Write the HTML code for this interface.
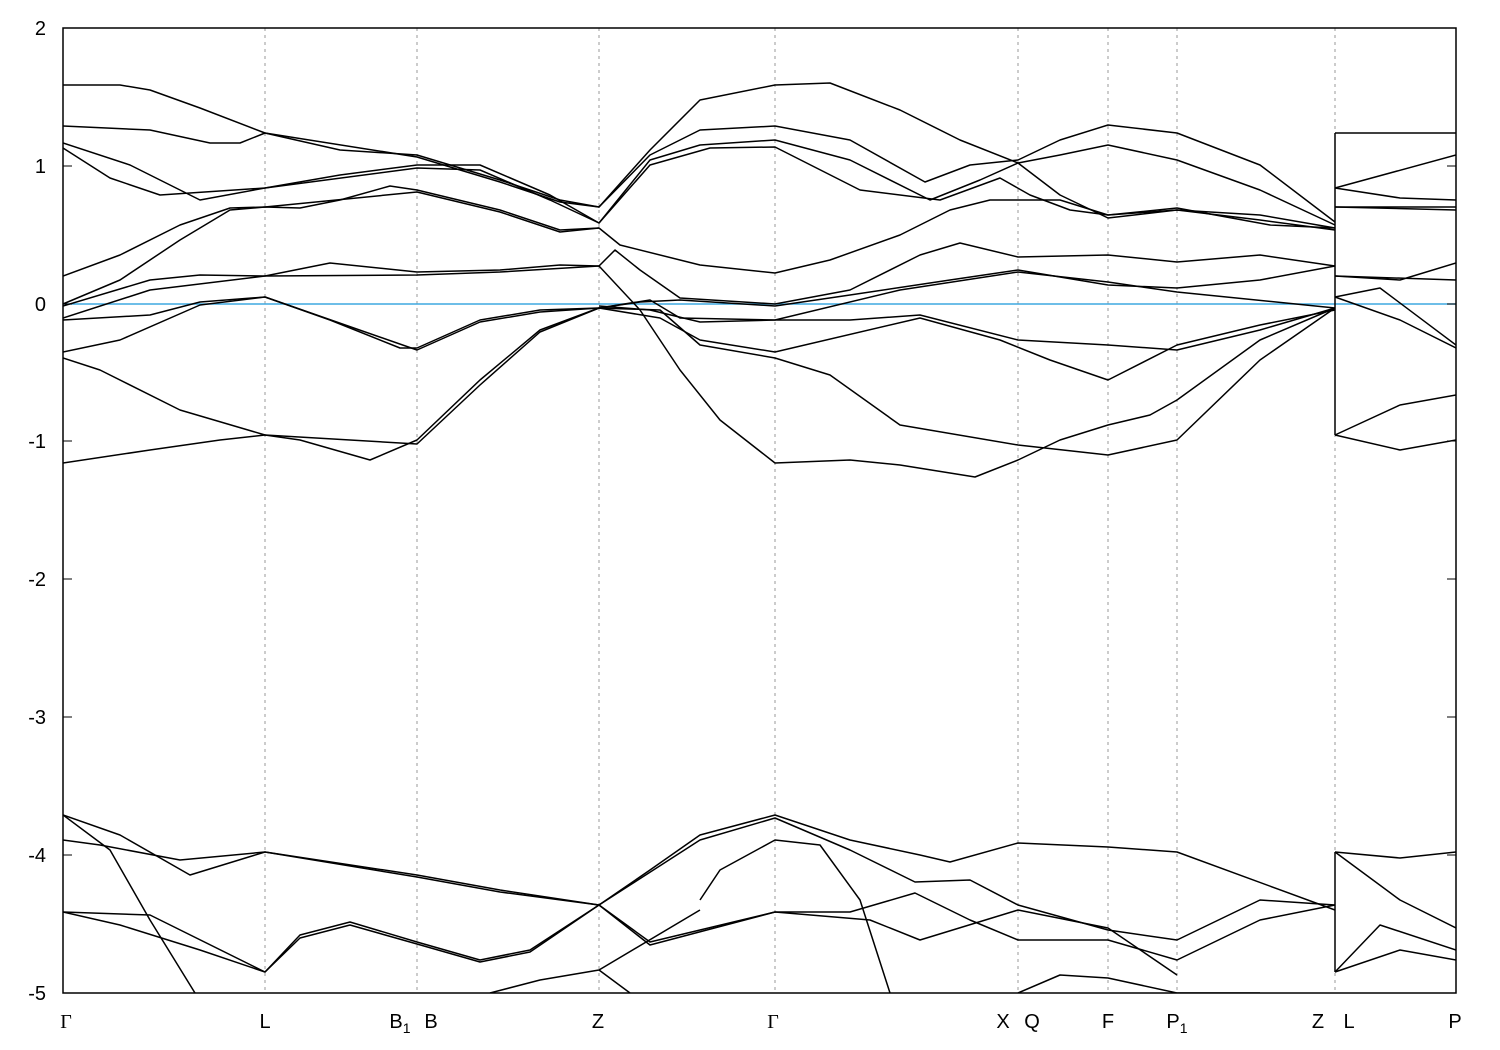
<!DOCTYPE html>
<html><head><meta charset="utf-8"><style>
body{margin:0;background:#fff;width:1500px;height:1050px;overflow:hidden}
svg{position:absolute;left:0;top:0}
text{font-family:"Liberation Sans",sans-serif;font-size:20px;fill:#000}
</style></head><body>
<svg width="1500" height="1050" viewBox="0 0 1500 1050">
<defs><clipPath id="c"><rect x="63" y="28" width="1393" height="965"/></clipPath></defs>
<g stroke="#999" stroke-width="1" stroke-dasharray="3,4">
<line x1="265" y1="28" x2="265" y2="993"/><line x1="417" y1="28" x2="417" y2="993"/>
<line x1="599" y1="28" x2="599" y2="993"/><line x1="775" y1="28" x2="775" y2="993"/>
<line x1="1018" y1="28" x2="1018" y2="993"/><line x1="1108" y1="28" x2="1108" y2="993"/>
<line x1="1177" y1="28" x2="1177" y2="993"/><line x1="1335" y1="28" x2="1335" y2="993"/>
</g>
<line x1="63" y1="304" x2="1456" y2="304" stroke="#3fa9e0" stroke-width="1.5"/>
<g clip-path="url(#c)" fill="none" stroke="#000" stroke-width="1.5" stroke-linejoin="round">
<polyline points="63,85 120,85 150,90 200,108 265,133 340,150 417,155 500,180 560,200 599,207 650,150 700,100 775,85 830,83 900,110 960,140 1018,163 1060,195 1108,218 1177,210 1260,215 1335,228"/>
<polyline points="63,126 150,130 210,143 240,143 265,133 417,157 500,182 560,202 599,207 650,155 700,130 775,126 850,140 925,182 970,165 1018,160 1060,140 1108,125 1177,133 1260,165 1335,222"/>
<polyline points="63,143 130,165 200,200 265,188 340,175 417,165 480,165 550,195 599,223 650,160 700,145 775,140 850,160 930,200 980,180 1018,163 1060,155 1108,145 1177,160 1260,190 1335,225"/>
<polyline points="63,148 110,178 160,195 265,188 417,168 480,170 550,200 599,223 650,165 710,148 775,147 860,190 940,200 1000,178 1030,195 1070,210 1108,215 1177,210 1260,220 1335,230"/>
<polyline points="63,276 120,255 180,225 230,208 265,207 300,208 340,200 390,186 417,190 500,210 560,230 599,228 620,245 700,265 775,273 830,260 900,235 950,210 990,200 1018,200 1060,200 1108,215 1177,208 1270,225 1335,228"/>
<polyline points="63,304 120,280 180,240 230,210 265,207 417,192 500,212 560,232 599,228"/>
<polyline points="63,306 150,280 200,275 265,276 330,263 417,272 500,270 560,265 599,266 615,250 640,270 680,298 775,304 850,290 920,255 960,243 1018,257 1108,255 1177,262 1260,255 1335,266"/>
<polyline points="63,318 150,290 265,276 417,275 500,272 599,266 640,310 680,370 720,420 775,463 850,460 900,465 975,477 1018,460 1060,440 1108,425 1150,415 1177,400 1260,340 1335,308"/>
<polyline points="63,320 150,315 200,302 265,297 330,320 400,348 417,348 480,320 540,310 599,308 650,300 680,318 775,320 850,320 920,315 1018,340 1108,345 1177,350 1260,330 1335,308"/>
<polyline points="63,352 120,340 200,305 265,297 417,350 480,322 540,312 599,308 660,318 700,340 775,352 920,318 1000,340 1050,360 1108,380 1177,345 1260,325 1335,310"/>
<polyline points="63,358 100,370 180,410 265,435 300,440 370,460 417,440 480,380 540,330 599,308 660,310 700,345 775,358 830,375 900,425 1018,445 1108,455 1177,440 1260,360 1335,308"/>
<polyline points="63,463 150,450 220,440 265,435 417,444 480,385 540,332 599,308 640,302 680,300 775,306 850,295 950,280 1018,270 1108,285 1177,288 1260,280 1335,266"/>
<polyline points="599,306 650,310 700,322 775,320 900,290 1018,272 1108,282 1177,292 1335,308"/>
<polyline points="1335,133 1456,133"/><polyline points="1335,188 1456,155"/><polyline points="1335,188 1400,198 1456,200"/>
<polyline points="1335,207 1456,207"/><polyline points="1335,207 1456,210"/>
<polyline points="1335,276 1400,280 1456,263"/><polyline points="1335,276 1456,280"/>
<polyline points="1335,297 1380,288 1456,345"/><polyline points="1335,297 1400,320 1456,348"/>
<polyline points="1335,435 1400,405 1456,395"/><polyline points="1335,435 1400,450 1456,440"/>
<polyline points="1335,133 1335,435"/><polyline points="1335,852 1335,972"/>
<polyline points="63,815 120,835 190,875 265,852 417,875 500,890 599,905 650,870 700,835 775,815 850,840 920,855 950,862 1018,843 1108,847 1177,852 1335,910"/>
<polyline points="63,840 100,845 180,860 265,852 417,877 500,892 599,905 700,840 775,818 850,850 915,882 970,880 1018,905 1108,930 1177,940 1260,900 1335,905"/>
<polyline points="63,912 150,915 265,972 300,935 350,922 417,942 480,960 530,950 599,905 650,942 700,930 775,912 850,912 915,893 970,920 1018,940 1108,940 1177,960 1260,920 1335,905"/>
<polyline points="63,912 120,925 200,950 265,972 300,938 350,925 417,944 480,962 530,952 599,905 650,945 775,912 870,920 920,940 1018,910 1108,928 1177,975"/>
<polyline points="63,815 110,850 150,920 195,993"/>
<polyline points="490,993 540,980 599,970 700,910"/><polyline points="599,970 630,993"/>
<polyline points="700,900 720,870 775,840 820,845 860,900 890,993"/>
<polyline points="1018,993 1060,975 1108,978 1177,993 1260,993"/>
<polyline points="1335,852 1400,858 1456,852"/><polyline points="1335,852 1400,900 1456,928"/>
<polyline points="1335,972 1380,925 1456,950"/><polyline points="1335,972 1400,950 1456,960"/>
</g>
<rect x="63" y="28" width="1393" height="965" fill="none" stroke="#000" stroke-width="1.5"/>
<g stroke="#000" stroke-width="1">
<line x1="63" y1="28" x2="72" y2="28"/><line x1="63" y1="166" x2="72" y2="166"/><line x1="63" y1="304" x2="72" y2="304"/><line x1="63" y1="441" x2="72" y2="441"/><line x1="63" y1="579" x2="72" y2="579"/><line x1="63" y1="717" x2="72" y2="717"/><line x1="63" y1="855" x2="72" y2="855"/>
<line x1="1447" y1="166" x2="1456" y2="166"/><line x1="1447" y1="304" x2="1456" y2="304"/><line x1="1447" y1="441" x2="1456" y2="441"/><line x1="1447" y1="579" x2="1456" y2="579"/><line x1="1447" y1="717" x2="1456" y2="717"/><line x1="1447" y1="855" x2="1456" y2="855"/>
</g>
<g text-anchor="end">
<text x="46" y="35">2</text><text x="46" y="173">1</text><text x="46" y="311">0</text><text x="46" y="448">-1</text><text x="46" y="586">-2</text><text x="46" y="724">-3</text><text x="46" y="862">-4</text><text x="46" y="1000">-5</text>
</g>
<g text-anchor="middle">
<text x="66" y="1028" style="font-family:'Liberation Serif',serif">Γ</text>
<text x="265" y="1028">L</text>
<text x="400" y="1028">B<tspan font-size="14" dy="5">1</tspan></text>
<text x="431" y="1028">B</text>
<text x="598" y="1028">Z</text>
<text x="773" y="1028" style="font-family:'Liberation Serif',serif">Γ</text>
<text x="1003" y="1028">X</text><text x="1032" y="1028">Q</text>
<text x="1108" y="1028">F</text>
<text x="1177" y="1028">P<tspan font-size="14" dy="5">1</tspan></text>
<text x="1318" y="1028">Z</text><text x="1349" y="1028">L</text>
<text x="1455" y="1028">P</text>
</g>
</svg>
</body></html>
